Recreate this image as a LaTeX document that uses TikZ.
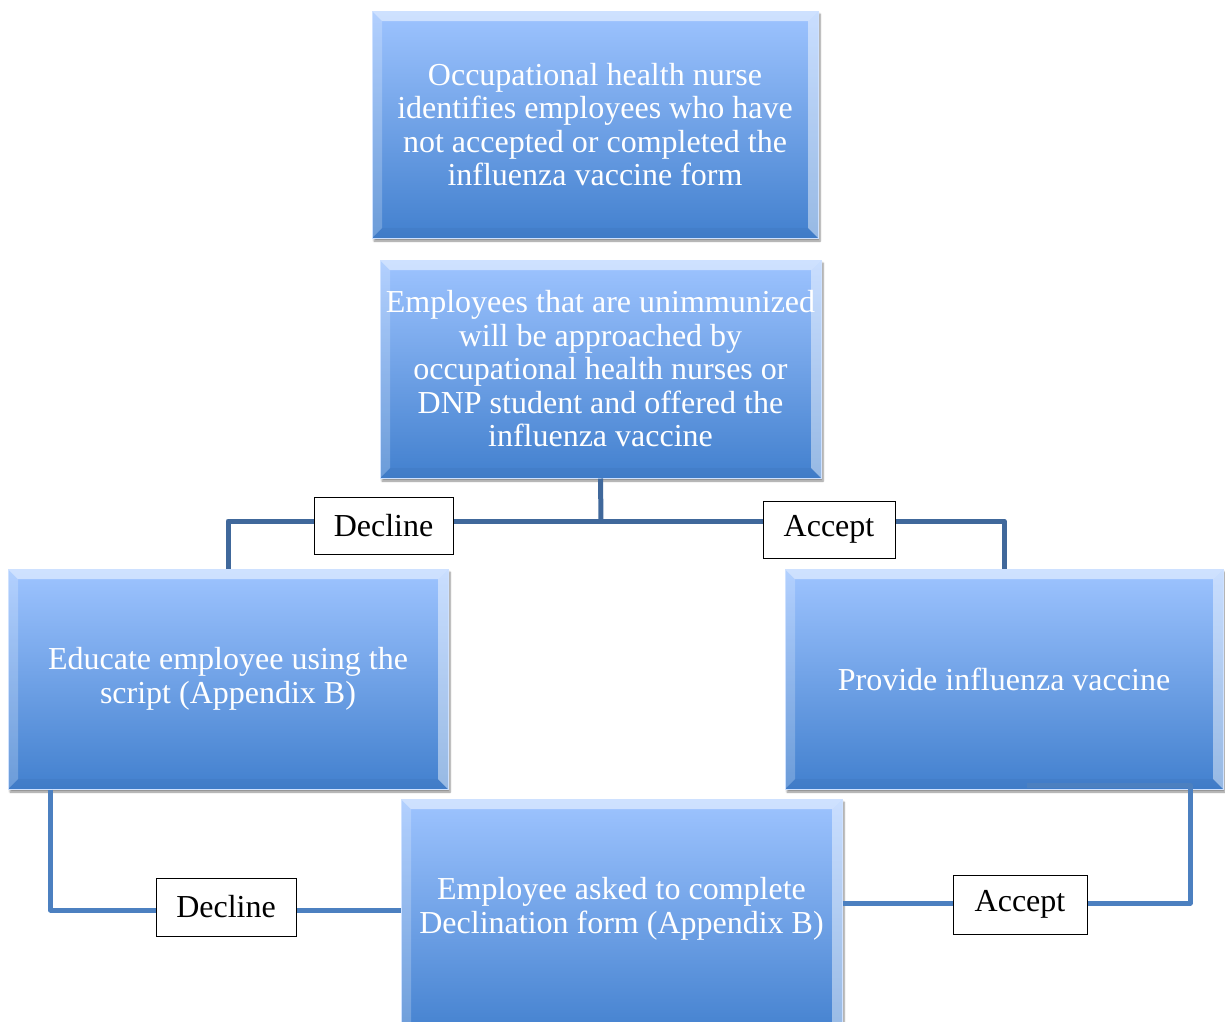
\documentclass[tikz,border=0pt]{standalone}
\usepackage{fontspec}
\setmainfont{Liberation Serif}
\usetikzlibrary{shadows.blur}
\definecolor{btop}{RGB}{158,196,255}
\definecolor{bbot}{RGB}{66,128,206}
\definecolor{lineA}{RGB}{64,104,155}
\definecolor{lineB}{RGB}{76,128,192}
\tikzset{
 bevel/.style={path picture={
  \fill[white,opacity=0.5] (path picture bounding box.north west) -- (path picture bounding box.north east) -- ([shift={(-10pt,-10pt)}]path picture bounding box.north east) -- ([shift={(10pt,-10pt)}]path picture bounding box.north west) -- cycle;
  \fill[white,opacity=0.22] (path picture bounding box.north west) -- ([shift={(10pt,-10pt)}]path picture bounding box.north west) -- ([shift={(10pt,10pt)}]path picture bounding box.south west) -- (path picture bounding box.south west) -- cycle;
  \fill[white,opacity=0.45] (path picture bounding box.north east) -- ([shift={(-10pt,-10pt)}]path picture bounding box.north east) -- ([shift={(-10pt,10pt)}]path picture bounding box.south east) -- (path picture bounding box.south east) -- cycle;
  \fill[black,opacity=0.03] (path picture bounding box.south west) -- ([shift={(10pt,10pt)}]path picture bounding box.south west) -- ([shift={(-10pt,10pt)}]path picture bounding box.south east) -- (path picture bounding box.south east) -- cycle;
 }},
 boxtext/.style={text=white, align=center, font=\fontsize{32}{33.5}\selectfont},
 box/.style={rectangle, top color=btop, bottom color=bbot, draw=btop!50!white, line width=1pt,
   boxtext, inner sep=0pt,
   blur shadow={shadow xshift=2pt, shadow yshift=-3pt, shadow blur steps=6, shadow opacity=45}, bevel},
 lab/.style={rectangle, draw=black, fill=white, line width=0.9pt, font=\fontsize{32}{34}\selectfont, inner sep=0pt},
 conA/.style={draw=lineA, line width=5pt, line join=round},
 conB/.style={draw=lineB, line width=5pt, line join=round},
}
\begin{document}
\begin{tikzpicture}[x=1pt,y=-1pt]
\useasboundingbox (0,0) rectangle (1225,1021);
\node[box, minimum width=446pt, minimum height=227pt] (b1) at (595,124.5)
 {Occupational health nurse\\identifies employees who have\\not accepted or completed the\\influenza vaccine form};
\node[box, minimum width=441pt, minimum height=218pt] (b2) at (600.5,369)
 {Employees that are unimmunized\\will be approached by\\occupational health nurses or\\DNP student and offered the\\influenza vaccine};
\node[box, minimum width=440pt, minimum height=220pt] (b3) at (228,679)
 {Educate employee using the\\script (Appendix B)};
\node[box, minimum width=438pt, minimum height=220pt] (b4) at (1004,679)
 {Provide influenza vaccine};
\node[box, minimum width=441pt, minimum height=240pt,
  label={[name=t5, boxtext, yshift=10pt]center:Employee asked to complete\\Declination form (Appendix B)}] (b5) at (621.5,919) {};

\coordinate (j) at (601,521);
\draw[conA] (b2.south) -- (j);
\draw[conA] (j) -| (b3.north);
\draw[conA] (j) -| (b4.north);
\draw[conB] ([xshift=43pt]b3.south west) |- ([yshift=9pt]b5.west);
\draw[conB] ([yshift=16pt]b5.east) -| ([xshift=186pt,yshift=4pt]b4.south) -- ([xshift=23pt,yshift=4pt]b4.south);

\node[lab, minimum width=139pt, minimum height=57pt] (d1) at (383.5,525.5) {Decline};
\node[lab, minimum width=132pt, minimum height=57pt] (a1) at (829,529.5) {Accept};
\node[lab, minimum width=140pt, minimum height=58pt] (d2) at (226,907) {Decline};
\node[lab, minimum width=134pt, minimum height=59pt] (a2) at (1020,904.5) {Accept};
\end{tikzpicture}
\end{document}
